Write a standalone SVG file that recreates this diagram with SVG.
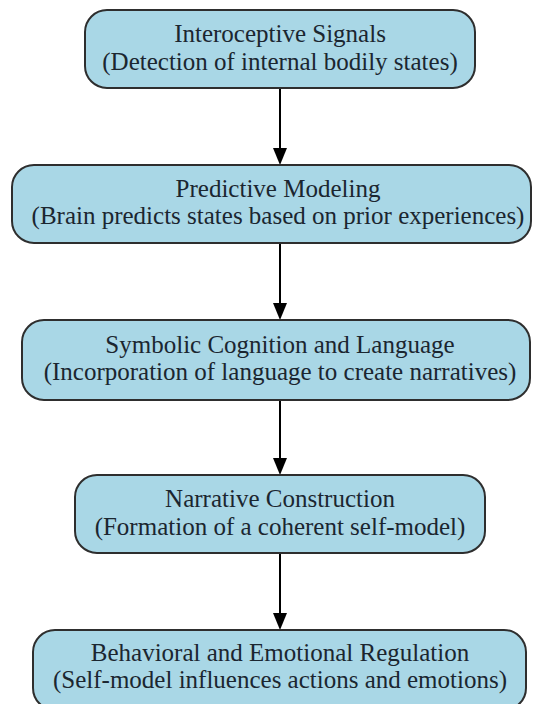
<svg xmlns="http://www.w3.org/2000/svg" width="533" height="704" viewBox="0 0 533 704">
<style>
.box{fill:#a9d7e6;stroke:#2e2e2e;stroke-width:2}
.t{font-family:"Liberation Serif","Times New Roman",serif;font-size:25px;fill:#1b2630;text-anchor:middle}
.edge{stroke:#000;stroke-width:2;fill:none}
.head{fill:#000}
</style>
<rect width="533" height="704" fill="#fff"/>
<g id="connectors">
<line class="edge" x1="280" y1="89" x2="280" y2="149"/><path class="head" d="M273,148 L287,148 L280,165 Z"/>
<line class="edge" x1="280" y1="244" x2="280" y2="304"/><path class="head" d="M273,303 L287,303 L280,320 Z"/>
<line class="edge" x1="280" y1="401" x2="280" y2="459"/><path class="head" d="M273,458 L287,458 L280,475 Z"/>
<line class="edge" x1="280" y1="554" x2="280" y2="614"/><path class="head" d="M273,613 L287,613 L280,630 Z"/>
</g>
<g id="n1">
<rect class="box" x="85" y="10" width="390" height="78" rx="22"/>
<text class="t" x="280" y="42">Interoceptive Signals</text>
<text class="t" x="280" y="70">(Detection of internal bodily states)</text>
</g>
<g id="n2">
<rect class="box" x="12" y="165" width="519" height="78" rx="22"/>
<text class="t" x="278" y="197">Predictive Modeling</text>
<text class="t" x="278" y="224">(Brain predicts states based on prior experiences)</text>
</g>
<g id="n3">
<rect class="box" x="22" y="320" width="508" height="80" rx="22"/>
<text class="t" x="280" y="353">Symbolic Cognition and Language</text>
<text class="t" x="280" y="380">(Incorporation of language to create narratives)</text>
</g>
<g id="n4">
<rect class="box" x="75" y="475" width="410" height="78" rx="22"/>
<text class="t" x="280" y="507">Narrative Construction</text>
<text class="t" x="280" y="535">(Formation of a coherent self-model)</text>
</g>
<g id="n5">
<rect class="box" x="33" y="630" width="493" height="80" rx="22"/>
<text class="t" x="280" y="661">Behavioral and Emotional Regulation</text>
<text class="t" x="280" y="688">(Self-model influences actions and emotions)</text>
</g>
</svg>
